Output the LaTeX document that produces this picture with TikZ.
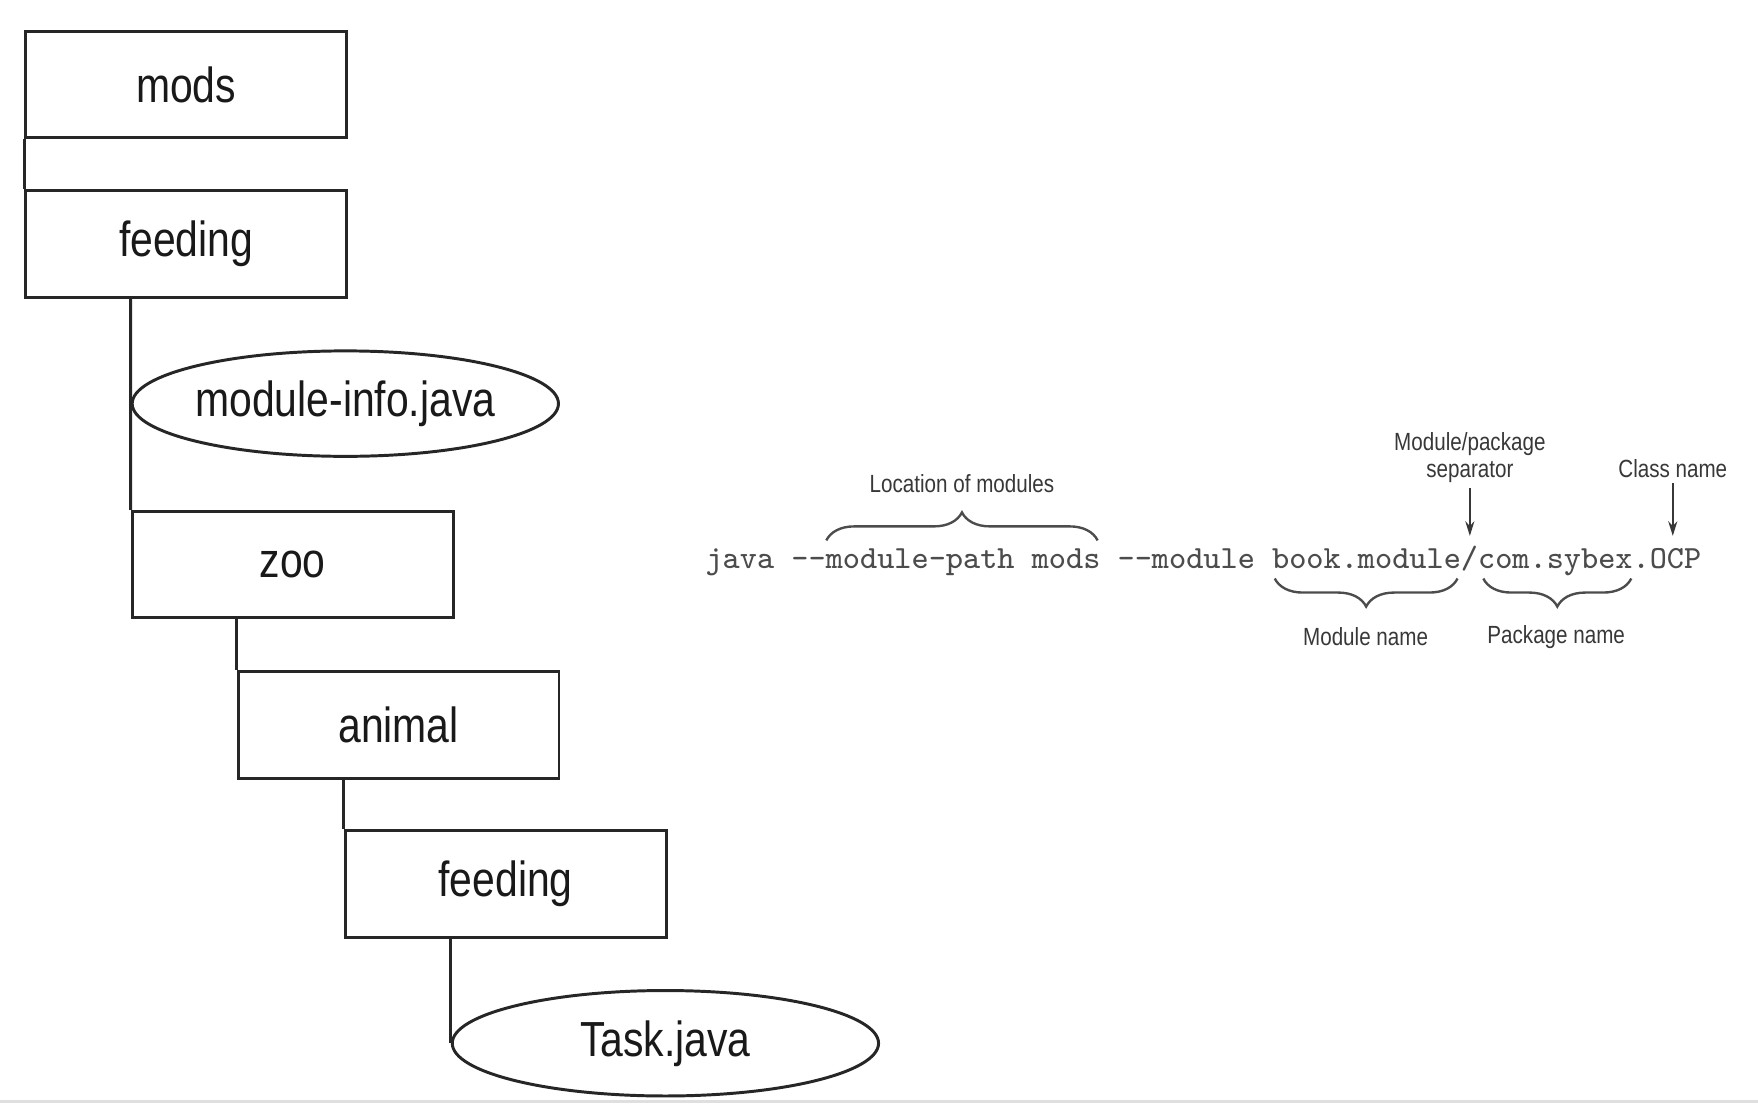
\documentclass[tikz,border=0pt]{standalone}
\usepackage{fontspec}
\usepackage{tikz}
\usetikzlibrary{shapes.geometric,arrows.meta,decorations.pathreplacing}

\newfontfamily\boxfont[FakeStretch=0.83]{Liberation Sans}
\newfontfamily\notefont[FakeStretch=0.83]{Liberation Sans}

\definecolor{linec}{gray}{0.15}
\definecolor{codec}{gray}{0.30}
\definecolor{notec}{gray}{0.22}

\tikzset{
    dir/.style={rectangle, draw=linec, minimum width=2.86cm, minimum height=0.95cm, inner sep=0pt,
        font=\boxfont\fontsize{12.5}{15}\selectfont, text=black!90},
    file/.style={ellipse, draw=linec, minimum width=3.8cm, minimum height=0.94cm, inner sep=0pt,
        font=\boxfont\fontsize{12.5}{15}\selectfont, text=black!90},
    note/.style={font=\notefont\fontsize{6.3}{6.8}\selectfont, text=notec, inner sep=1pt, align=center},
    arr/.style={draw=notec, line width=0.6pt, -{Stealth[length=0.13cm, width=0.08cm]}},
    curly/.style={draw=codec, line width=0.6pt, decorate, decoration={brace, amplitude=0.25cm}}
}

\begin{document}
\begin{tikzpicture}[x=0.01cm, y=-0.01cm, line width=0.75pt]
    \fill[white] (0,0) rectangle (1568,984);
    \fill[gray!25] (0,981) rectangle (1568,984);

    % directory tree
    \node[dir] (MODS) at (166,75.5) {mods};
    \node[dir] (FEED) at (166,217.5) {feeding};
    \node[file] (INFO) at (308,360) {module-info.java};
    \node[dir] (ZOO) at (261,503.5) {zoo};
    \node[dir] (ANIMAL) at (355.5,646.5) {animal};
    \node[dir] (FEEDB) at (451,788.5) {feeding};
    \node[file] (TASK) at (593.5,930.5) {Task.java};

    \draw[linec] (MODS.south west) -- (FEED.north west);
    \draw[linec] (FEED.south -| INFO.west) -- (INFO.west) -- (ZOO.north west);
    \draw[linec] (ZOO.south -| ANIMAL.west) -- (ANIMAL.north west);
    \draw[linec] (ANIMAL.south -| FEEDB.west) -- (FEEDB.north west);
    \draw[linec] (FEEDB.south -| TASK.west) -- (TASK.west);

    % command line
    \node[anchor=base west, inner sep=0pt, text=codec, font=\ttfamily\fontsize{8.2}{9}\selectfont] (CMD) at (628,507)
        {java -\kern0pt-module-path mods -\kern0pt-module book.module/com.sybex.OCP};

    \coordinate (PATHL) at (737,482);
    \coordinate (PATHR) at (979,482);
    \coordinate (MODL) at (1137,516);
    \coordinate (MODR) at (1300,516);
    \coordinate (PKGL) at (1323,516);
    \coordinate (PKGR) at (1455,516);
    \coordinate (SLASH) at (1311,478);
    \coordinate (CLS) at (1492,478);

    \node[note] (LOC) at (858,431) {Location of modules};
    \node[note] (SEP) at (1311,408) {Module/package\\separator};
    \node[note] (CLASS) at (1492,418) {Class name};
    \node[note] (MODNAME) at (1218,568) {Module name};
    \node[note] (PKGNAME) at (1388,568) {Package name};

    \draw[curly] (PATHL) -- (PATHR);
    \draw[curly] (MODR) -- (MODL);
    \draw[curly] (PKGR) -- (PKGL);

    \draw[arr] (SEP.south) -- (SLASH);
    \draw[arr] (CLASS.south) -- (CLS);
\end{tikzpicture}
\end{document}
